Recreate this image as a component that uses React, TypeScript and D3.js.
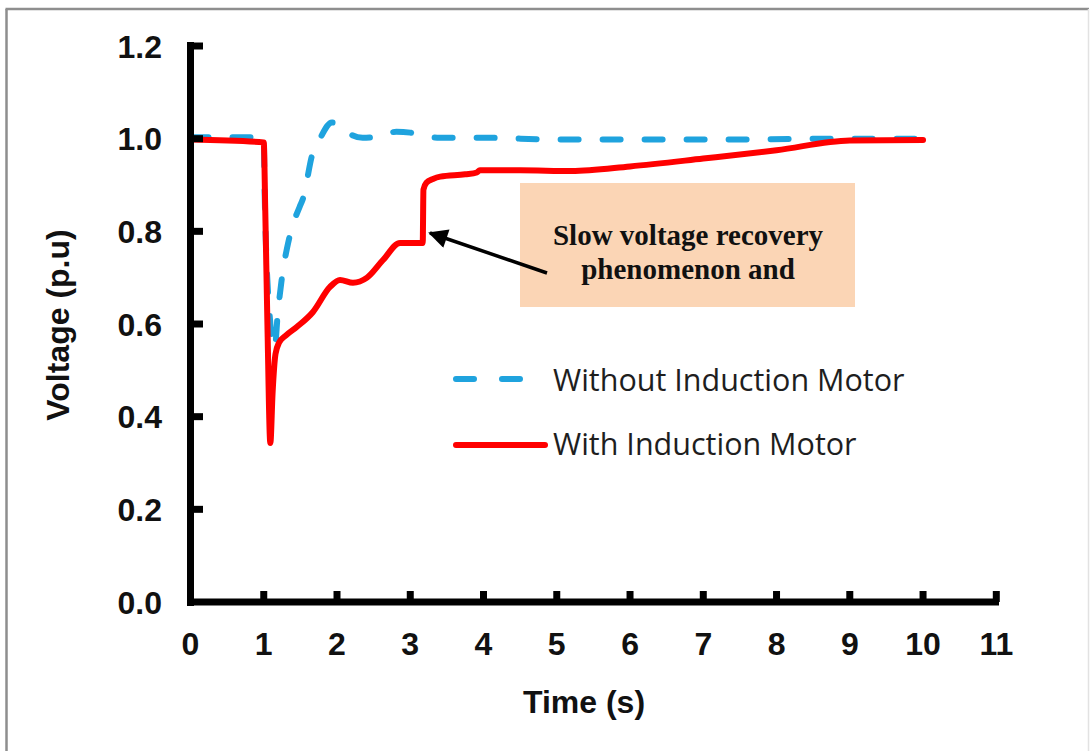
import React from "react";
import * as d3 from "d3";

const xTicks = [0, 1, 2, 3, 4, 5, 6, 7, 8, 9, 10, 11];
const yTicks = [0, 0.2, 0.4, 0.6, 0.8, 1.0, 1.2];

const redT = [0, 1.0, 1.02, 1.05, 1.09, 1.12, 1.16, 1.21, 1.3, 1.454, 1.672, 1.904, 2.041, 2.218, 2.41, 2.628, 2.86, 3.03, 3.17, 3.18, 3.22, 3.31, 3.41, 3.75, 3.91, 3.95, 4.5, 5.2, 6, 7, 8, 9, 10];
const redV = [0.998, 0.992, 0.85, 0.6, 0.343, 0.45, 0.535, 0.56, 0.575, 0.594, 0.626, 0.68, 0.695, 0.689, 0.7, 0.738, 0.775, 0.775, 0.775, 0.89, 0.905, 0.913, 0.918, 0.923, 0.927, 0.932, 0.932, 0.93, 0.94, 0.957, 0.975, 0.996, 0.997];

const blueT = [0, 1.0, 1.01, 1.08, 1.15, 1.19, 1.24, 1.35, 1.49, 1.53, 1.67, 1.76, 1.93, 2.08, 2.2, 2.35, 2.6, 2.81, 3.0, 3.2, 3.4, 4, 5, 7, 9, 10];
const blueV = [1.003, 1.003, 0.9, 0.62, 0.548, 0.62, 0.69, 0.787, 0.853, 0.868, 0.97, 0.998, 1.035, 1.026, 1.008, 1.002, 1.006, 1.015, 1.013, 1.005, 1.002, 1.002, 0.998, 0.998, 1.0, 1.0];

const seriesNames = ["Without Induction Motor", "With Induction Motor"];
const annotationLines = ["Slow voltage recovery", "phenomenon and"];
const xTitle = "Time (s)";
const yTitle = "Voltage (p.u)";

export default function App() {
  const x = d3.scaleLinear().domain([0, 11]).range([190.5, 996.3]);
  const y = d3.scaleLinear().domain([0, 1.2]).range([602, 46]);
  const line = d3
    .line<[number, number]>()
    .x((d) => x(d[0]))
    .y((d) => y(d[1]))
    .curve(d3.curveMonotoneX);
  const redPts = redT.map((t, i) => [t, redV[i]] as [number, number]);
  const bluePts = blueT.map((t, i) => [t, blueV[i]] as [number, number]);
  const blue = "#1FA3DE";
  const red = "#FF0000";
  const axisFont = "'Liberation Sans', Arial, sans-serif";
  const legFont = "'Open Sans', sans-serif";

  return (
    <svg
      width={1092}
      height={751}
      style={{ position: "absolute", left: 0, top: 0, background: "#fff" }}
    >
      <rect x={0} y={0} width={1092} height={751} fill="#fff" />
      <line x1={6.5} y1={9} x2={6.5} y2={751} stroke="#8e8e8e" strokeWidth={2.5} />
      <line x1={5.5} y1={9} x2={1089} y2={9} stroke="#8e8e8e" strokeWidth={2.5} />
      <line x1={1088.5} y1={9} x2={1088.5} y2={751} stroke="#e2e2e2" strokeWidth={1.5} />

      {/* annotation box */}
      <rect x={520} y={183} width={335} height={124} fill="#FBD5B5" />
      {annotationLines.map((t, i) => (
        <text
          key={t}
          x={688}
          y={245 + i * 34}
          textAnchor="middle"
          fontFamily="'Liberation Serif', serif"
          fontWeight="bold"
          fontSize={29}
          fill="#111"
        >
          {t}
        </text>
      ))}
      {/* arrow */}
      <defs>
        <marker id="ah" viewBox="0 0 10 10" refX={9} refY={5} markerWidth={6} markerHeight={5.5} orient="auto" markerUnits="strokeWidth">
          <path d="M0,0 L10,5 L0,10 z" fill="#000" />
        </marker>
      </defs>
      <line x1={547} y1={273} x2={430} y2={233} stroke="#000" strokeWidth={3.5} markerEnd="url(#ah)" />

      {/* series */}
      <path d={line(bluePts) || ""} fill="none" stroke={blue} strokeWidth={6} strokeDasharray="18 24" strokeLinecap="round" />
      <path d={line(redPts) || ""} fill="none" stroke={red} strokeWidth={6} strokeLinejoin="round" strokeLinecap="round" />

      {/* axes */}
      <line x1={x(0)} y1={42} x2={x(0)} y2={606} stroke="#000" strokeWidth={7} />
      <line x1={187} y1={y(0)} x2={999} y2={y(0)} stroke="#000" strokeWidth={7} />
      {yTicks.filter((v) => v > 0).map((v) => (
        <line key={"yt" + v} x1={x(0)} x2={203} y1={y(v)} y2={y(v)} stroke="#000" strokeWidth={7} />
      ))}
      {xTicks.filter((v) => v > 0).map((v) => (
        <line key={"xt" + v} x1={x(v)} x2={x(v)} y1={y(0)} y2={591} stroke="#000" strokeWidth={7} />
      ))}
      {yTicks.map((v) => (
        <text key={"yl" + v} x={162} y={y(v) + 11.5} textAnchor="end" fontFamily={axisFont} fontWeight="bold" fontSize={32} fill="#111">
          {v.toFixed(1)}
        </text>
      ))}
      {xTicks.map((v) => (
        <text key={"xl" + v} x={x(v)} y={655} textAnchor="middle" fontFamily={axisFont} fontWeight="bold" fontSize={32} fill="#111">
          {v}
        </text>
      ))}
      <text x={584} y={713} textAnchor="middle" fontFamily={axisFont} fontWeight="bold" fontSize={32} fill="#111">
        {xTitle}
      </text>
      <text
        transform="translate(69,325) rotate(-90)"
        textAnchor="middle"
        fontFamily={axisFont}
        fontWeight="bold"
        fontSize={32}
        fill="#111"
      >
        {yTitle}
      </text>

      {/* legend */}
      <line x1={456} x2={530} y1={379} y2={379} stroke={blue} strokeWidth={6} strokeDasharray="18 28" strokeLinecap="round" />
      <line x1={456} x2={545} y1={445} y2={445} stroke={red} strokeWidth={6} strokeLinecap="round" />
      <text x={553} y={391} fontFamily={legFont} fontSize={30.5} fill="#1e1e1e">
        {seriesNames[0]}
      </text>
      <text x={553} y={455} fontFamily={legFont} fontSize={30.5} fill="#1e1e1e">
        {seriesNames[1]}
      </text>
    </svg>
  );
}
